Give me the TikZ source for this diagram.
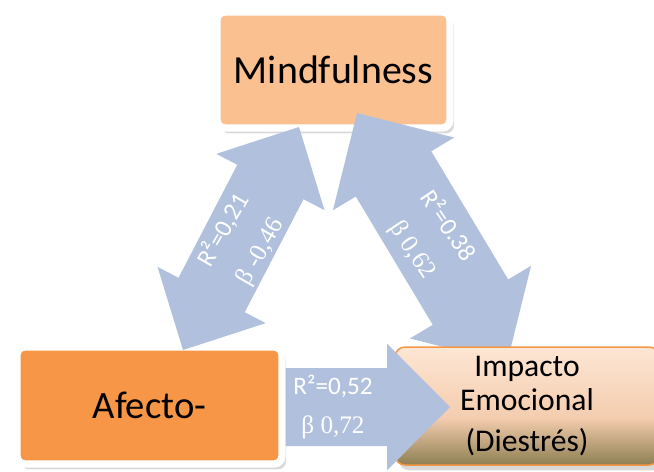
\documentclass[tikz,border=0pt]{standalone}
\usepackage{fontspec}
\setmainfont{Carlito}
\newfontfamily\betafont{Liberation Serif}
\usetikzlibrary{calc,shadows}
\definecolor{mindorange}{HTML}{FAC090}
\definecolor{affectorange}{HTML}{F79646}
\definecolor{impactpeach}{HTML}{FDE6D4}
\definecolor{impactmid}{HTML}{F4CDAE}
\definecolor{impactolive}{HTML}{8E7F52}
\definecolor{linkblue}{HTML}{B1C1DD}
\pgfdeclareverticalshading{impactfade}{100bp}{color(0bp)=(impactolive);
  color(25bp)=(impactolive); color(45bp)=(impactmid);
  color(75bp)=(impactpeach); color(100bp)=(impactpeach)}

% wide arrow with two heads: tip, tip, head length, head half width, shaft half width
\newcommand\linkarrow[5]{%
  \coordinate (hA) at ($(#1)!#3!(#2)$);
  \coordinate (hB) at ($(#2)!#3!(#1)$);
  \fill[linkblue] (#1) -- ($(hA)!#4!90:(#2)$) -- ($(hA)!#5!90:(#2)$)
    -- ($(hB)!#5!-90:(#1)$) -- ($(hB)!#4!-90:(#1)$) -- (#2)
    -- ($(hB)!#4!90:(#1)$) -- ($(hB)!#5!90:(#1)$)
    -- ($(hA)!#5!-90:(#2)$) -- ($(hA)!#4!-90:(#2)$) -- cycle;}
% wide arrow with one head: tail, tip, head length, head half width, shaft half width
\newcommand\headarrow[5]{%
  \coordinate (hB) at ($(#2)!#3!(#1)$);
  \fill[linkblue] ($(#1)!#5!90:(#2)$) -- ($(hB)!#5!-90:(#1)$)
    -- ($(hB)!#4!-90:(#1)$) -- (#2) -- ($(hB)!#4!90:(#1)$)
    -- ($(hB)!#5!90:(#1)$) -- ($(#1)!#5!-90:(#2)$) -- cycle;}

\begin{document}
\begin{tikzpicture}[
    x=0.03cm, y=-0.03cm,
    box/.style={align=center, inner sep=0pt, rounded corners=0.24cm,
      drop shadow={shadow xshift=0.12cm, shadow yshift=-0.16cm,
        opacity=0.3}},
    framed/.style={box, draw=white, line width=0.22cm},
    mindbox/.style={framed, fill=mindorange, minimum width=6.99cm,
      minimum height=3.48cm, font=\fontsize{34}{40}\selectfont},
    affectbox/.style={framed, fill=affectorange, minimum width=7.95cm,
      minimum height=3.51cm, font=\fontsize{33}{40}\selectfont},
    impactbox/.style={box, draw=affectorange, line width=0.045cm,
      shading=impactfade, rounded corners=0.3cm, minimum width=7.92cm,
      minimum height=3.54cm, font=\fontsize{27}{29}\selectfont},
    lbl/.style={text=white, align=center,
      font=\fontsize{21.5}{36}\selectfont},
    hlbl/.style={lbl, font=\fontsize{21.5}{33}\selectfont}
  ]
  \useasboundingbox (0,0) rectangle (654,471);

  \node[mindbox] (mind) at (333.5,70) {Mindfulness};

  % arrow tips
  \coordinate (mindL) at (299,127);
  \coordinate (affectT) at (183,350);
  \coordinate (mindR) at (357,113);
  \coordinate (impactT) at (507,363);
  \coordinate (affectR) at (216,407);
  \coordinate (impactL) at (450,407);

  \linkarrow{mindR}{impactT}{2.13cm}{2.12cm}{1.32cm}
  \node[impactbox] (impact) at (527,406)
    {Impacto\\Emocional\\[6pt](Diestrés)};
  \headarrow{affectR}{impactL}{1.89cm}{1.9cm}{1.17cm}
  \node[affectbox] (affect) at (149.5,405.5) {Afecto-};
  \linkarrow{affectT}{mindL}{1.86cm}{1.83cm}{1.12cm}

  \node[lbl, rotate=60] (leftlbl) at (242,241)
    {R²=0,21\\{\betafont β -0,46}};
  \node[lbl, rotate=-56] (rightlbl) at (430,238)
    {R²=0.38\\{\betafont β 0,62}};
  \node[hlbl] (midlbl) at (333,407)
    {R²=0,52\\{\betafont β 0,72}};
\end{tikzpicture}
\end{document}
